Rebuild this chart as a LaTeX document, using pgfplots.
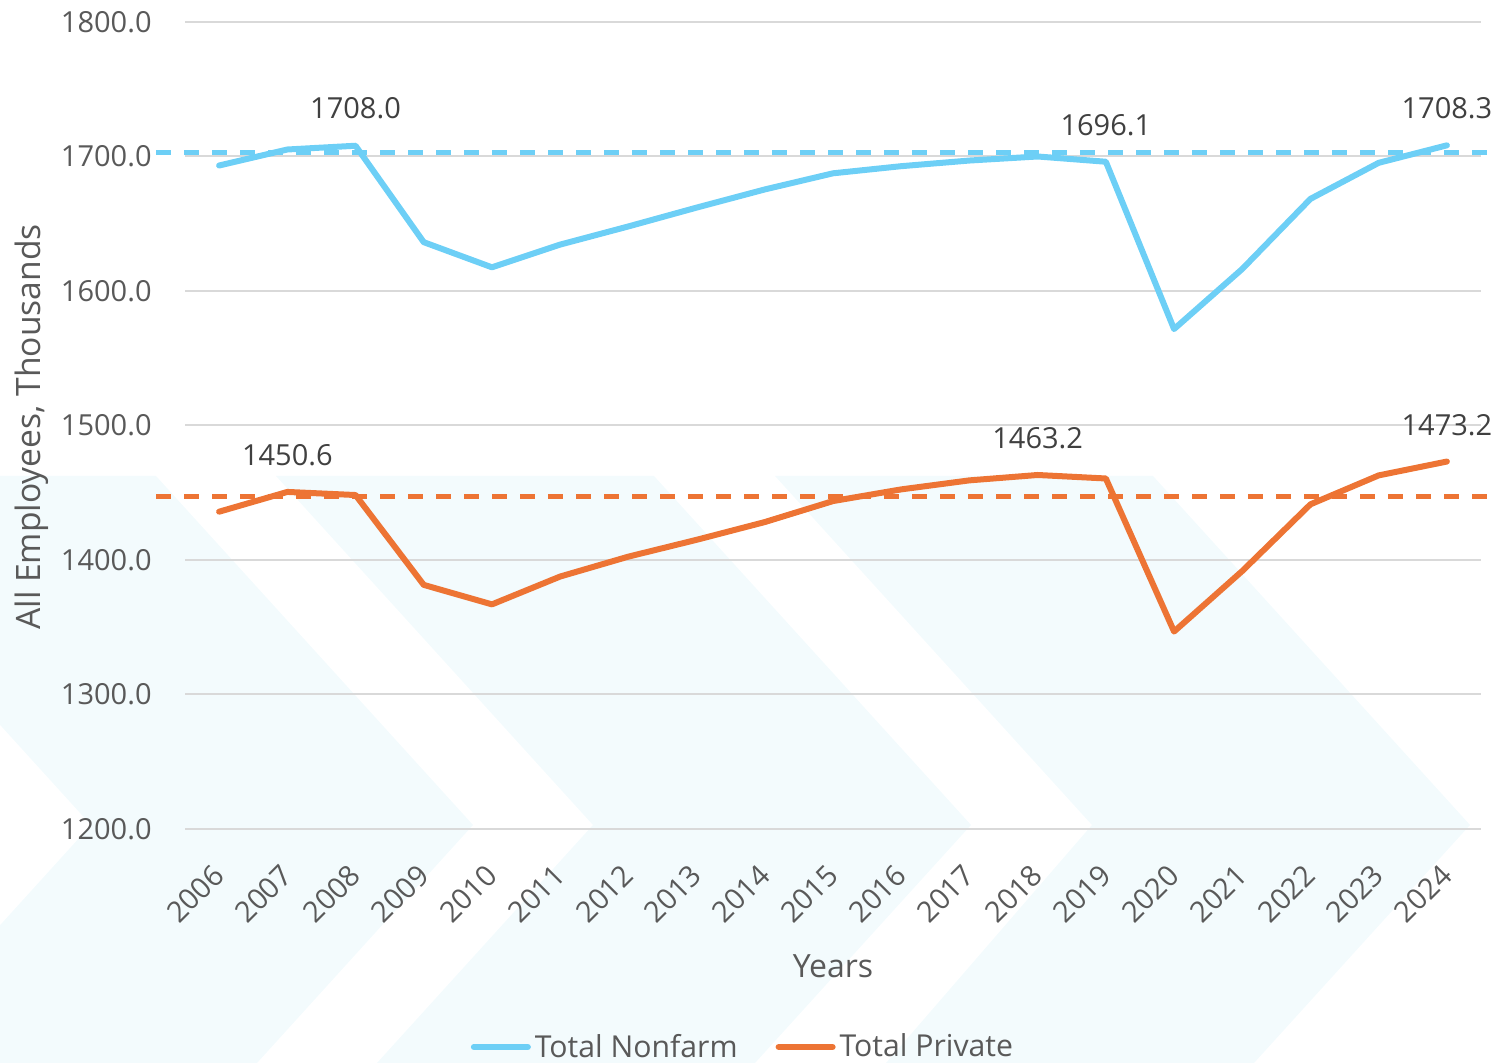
\documentclass[border=0pt]{standalone}
\usepackage{fontspec}
\setmainfont{Open Sans}
\usepackage{pgfplots}
\pgfplotsset{compat=1.18}
\definecolor{nf}{RGB}{109,207,246}
\definecolor{pr}{RGB}{237,116,52}
\definecolor{bgc}{RGB}{243,251,253}
\definecolor{grd}{RGB}{217,217,217}
\definecolor{tck}{RGB}{89,89,89}
\definecolor{lbl}{RGB}{64,64,64}
\newcommand{\tf}{\fontsize{14.5}{17}\selectfont}
\begin{document}
\begin{tikzpicture}
\path[use as bounding box] (0,0) rectangle (747pt,531.5pt);
\begin{scope}[x=0.5pt,y=-0.5pt,shift={(0pt,531.5pt)}]
\clip (0,476) rectangle (1494,1063);
\fill[bgc] (-226,476) -- (156,476) -- (473,825) -- (257,1063) -- (-125,1063) -- (91,825) -- cycle;
\fill[bgc] (276,476) -- (654,476) -- (971,825) -- (755,1063) -- (377,1063) -- (593,825) -- cycle;
\fill[bgc] (775,476) -- (1153,476) -- (1470,825) -- (1254,1063) -- (886,1063) -- (1092,825) -- cycle;
\end{scope}
\begin{axis}[
  at={(92.5pt,117pt)}, anchor=south west, scale only axis,
  width=648pt, height=403.5pt,
  xmin=2005.5, xmax=2024.5, ymin=1200, ymax=1800,
  axis line style={draw=none}, major tick length=0pt,
  ymajorgrids, grid style={grd, line width=1pt},
  ytick={1200,1300,...,1800},
  xtick={2006,2007,...,2024},
  xticklabels={2006,2007,2008,2009,2010,2011,2012,2013,2014,2015,2016,2017,2018,2019,2020,2021,2022,2023,2024},
  /pgf/number format/assume math mode=true,
  yticklabel={\pgfmathprintnumber[fixed,fixed zerofill,precision=1,1000 sep={}]{\tick}},
  tick label style={font=\tf, text=tck},
  yticklabel style={anchor=east, inner sep=0pt, xshift=-16.5pt},
  xticklabel style={rotate=45, anchor=east, inner sep=0pt},
  xticklabel shift=20.5pt,
  clip=false,
  legend style={at={(axis description cs:0.4313,-0.2701)}, anchor=center, draw=none, fill=none,
    legend columns=2, font=\fontsize{15.1}{18}\selectfont, text=tck, inner sep=0pt,
    /tikz/every even column/.append style={column sep=17pt},
    nodes={inner sep=2pt}},
  legend image code/.code={\draw[#1, line width=3pt, line cap=round] (0pt,0pt) -- (27pt,0pt);},
]
\addplot[nf, line width=3pt, line cap=round, line join=round] coordinates {
(2006,1693.3) (2007,1705.2) (2008,1708.0) (2009,1636.3) (2010,1617.6) (2011,1634.5)
(2012,1648.0) (2013,1662.0) (2014,1675.5) (2015,1687.5) (2016,1692.8) (2017,1697.0)
(2018,1700.0) (2019,1696.1) (2020,1571.7) (2021,1616.4) (2022,1668.5) (2023,1695.3) (2024,1708.3)};
\addplot[pr, line width=3pt, line cap=round, line join=round] coordinates {
(2006,1435.9) (2007,1450.6) (2008,1448.3) (2009,1381.5) (2010,1367.0) (2011,1387.7)
(2012,1402.5) (2013,1415.0) (2014,1428.2) (2015,1443.8) (2016,1452.5) (2017,1459.2)
(2018,1463.2) (2019,1460.6) (2020,1346.8) (2021,1391.8) (2022,1441.4) (2023,1462.9) (2024,1473.2)};
\addplot[nf, line width=2.5pt, dash pattern=on 7.5pt off 6.5pt, forget plot] coordinates {(2005.08,1703.3) (2024.7,1703.3)};
\addplot[pr, line width=2.5pt, dash pattern=on 7.5pt off 6.5pt, forget plot] coordinates {(2005.08,1447.5) (2024.7,1447.5)};
\legend{Total Nonfarm, Total Private}
\node[lbl, font=\tf] at (axis cs:2008,1736.1) {1708.0};
\node[lbl, font=\tf] at (axis cs:2019,1723.4) {1696.1};
\node[lbl, font=\tf] at (axis cs:2024,1736.1) {1708.3};
\node[lbl, font=\tf] at (axis cs:2007,1478.1) {1450.6};
\node[lbl, font=\tf] at (axis cs:2018,1490.7) {1463.2};
\node[lbl, font=\tf] at (axis cs:2024,1500.4) {1473.2};
\end{axis}
\node[tck, rotate=90, font=\fontsize{16.8}{20}\selectfont] at (16pt,318pt) {All Employees, Thousands};
\node[tck, font=\fontsize{16}{19}\selectfont] at (416.5pt,48.5pt) {Years};
\end{tikzpicture}
\end{document}
